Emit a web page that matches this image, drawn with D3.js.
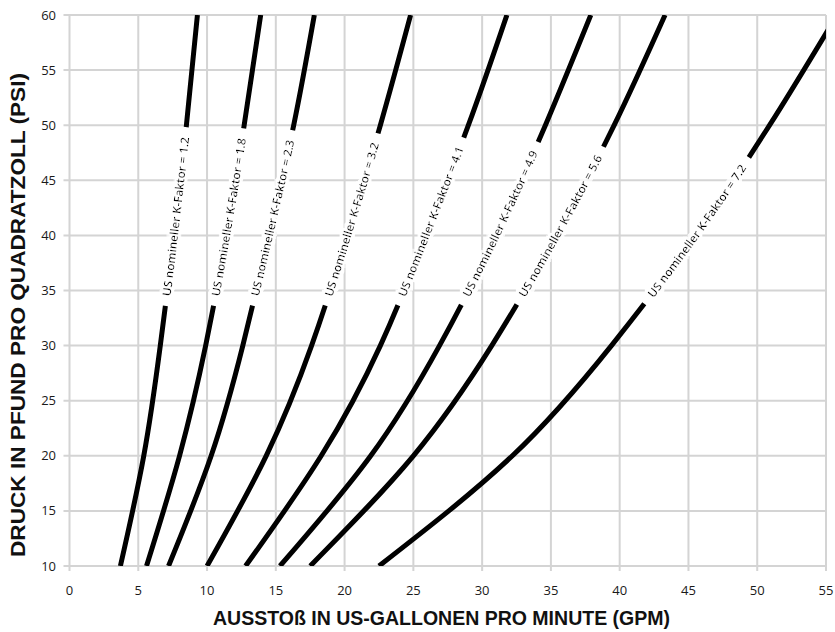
<!DOCTYPE html>
<html>
<head>
<meta charset="utf-8">
<script src="https://cdn.jsdelivr.net/npm/d3@7"></script>
<style>
  body { margin: 0; background: #fff; }
  svg { display: block; }
</style>
</head>
<body>
<div id="viz"></div>
<script>
var pressures = [10, 20, 30, 40, 50, 60];
var kFactors = ["1.2", "1.8", "2.3", "3.2", "4.1", "4.9", "5.6", "7.2"];
// flow in gpm for each K-factor at the pressures above
var flows = [
  [3.7, 5.4, 6.6, 7.6, 8.5, 9.3],
  [5.6, 8.0, 9.9, 11.4, 12.7, 13.9],
  [7.2, 10.3, 12.6, 14.5, 16.3, 17.8],
  [10.0, 14.3, 17.6, 20.2, 22.6, 24.8],
  [12.8, 18.3, 22.6, 25.9, 29.0, 31.8],
  [15.3, 21.9, 26.9, 31.0, 34.6, 37.9],
  [17.5, 25.0, 30.7, 35.4, 39.6, 43.3],
  [22.5, 32.2, 39.4, 45.5, 50.9, 55.8]
];
var xTicks = [0, 5, 10, 15, 20, 25, 30, 35, 40, 45, 50, 55];
var yTicks = [10, 15, 20, 25, 30, 35, 40, 45, 50, 55, 60];

var svg = d3.select("#viz")
  .append("svg")
  .attr("width", 835)
  .attr("height", 632);

var x = d3.scaleLinear().domain([0, 55]).range([69.5, 826]);
var y = d3.scaleLinear().domain([10, 60]).range([566, 15]);

var grid = "#d4d4d4";

// white halo filter for the curve labels
var halo = svg.append("defs").append("filter")
  .attr("id", "halo")
  .attr("x", "-20%").attr("y", "-20%")
  .attr("width", "140%").attr("height", "140%");
halo.append("feMorphology")
  .attr("in", "SourceAlpha").attr("operator", "dilate").attr("radius", 3).attr("result", "fat");
halo.append("feFlood").attr("flood-color", "#fff").attr("result", "white");
halo.append("feComposite").attr("in", "white").attr("in2", "fat").attr("operator", "in").attr("result", "bg");
var merge = halo.append("feMerge");
merge.append("feMergeNode").attr("in", "bg");
merge.append("feMergeNode").attr("in", "SourceGraphic");

// grid lines (they stick out a bit past the axes as ticks)
svg.selectAll("line.vx").data(xTicks).enter()
  .append("line")
  .attr("x1", function(d) { return x(d); })
  .attr("x2", function(d) { return x(d); })
  .attr("y1", y(60))
  .attr("y2", y(10) + 5)
  .style("stroke", grid)
  .style("stroke-width", 2);

svg.selectAll("line.hy").data(yTicks).enter()
  .append("line")
  .attr("x1", x(0) - 6)
  .attr("x2", x(55))
  .attr("y1", function(d) { return y(d); })
  .attr("y2", function(d) { return y(d); })
  .style("stroke", grid)
  .style("stroke-width", 2);

// tick labels
svg.selectAll("text.xt").data(xTicks).enter()
  .append("text")
  .attr("x", function(d) { return x(d); })
  .attr("y", 595)
  .attr("text-anchor", "middle")
  .style("font-family", "Open Sans, Noto Sans, sans-serif")
  .style("font-size", "13px")
  .style("fill", "#1a1a1a")
  .text(function(d) { return d; });

svg.selectAll("text.yt").data(yTicks).enter()
  .append("text")
  .attr("x", 56)
  .attr("y", function(d) { return y(d); })
  .attr("dy", "0.35em")
  .attr("text-anchor", "end")
  .style("font-family", "Open Sans, Noto Sans, sans-serif")
  .style("font-size", "13px")
  .style("fill", "#1a1a1a")
  .text(function(d) { return d; });

// axis titles
svg.append("text")
  .attr("x", 441.5)
  .attr("y", 625)
  .attr("text-anchor", "middle")
  .attr("textLength", 457)
  .attr("lengthAdjust", "spacingAndGlyphs")
  .style("font-family", "Liberation Sans Narrow, Liberation Sans, Arial, sans-serif")
  .style("font-weight", "bold")
  .style("font-size", "20px")
  .style("fill", "#111")
  .text("AUSSTOß IN US-GALLONEN PRO MINUTE (GPM)");

svg.append("text")
  .attr("transform", "translate(25,315) rotate(-90)")
  .attr("text-anchor", "middle")
  .attr("textLength", 484)
  .attr("lengthAdjust", "spacingAndGlyphs")
  .style("font-family", "Liberation Sans Narrow, Liberation Sans, Arial, sans-serif")
  .style("font-weight", "bold")
  .style("font-size", "20px")
  .style("fill", "#111")
  .text("DRUCK IN PFUND PRO QUADRATZOLL (PSI)");

// clip the curves to the plot area
svg.append("clipPath").attr("id", "plot")
  .append("rect")
  .attr("x", x(0)).attr("y", y(60))
  .attr("width", x(55) - x(0)).attr("height", y(10) - y(60));

var line = d3.line()
  .x(function(d) { return x(d[0]); })
  .y(function(d) { return y(d[1]); })
  .curve(d3.curveNatural);

var labelY = 296;   // where every label starts (pixel row)
var textLen = 160;
var pad = 10;

var curves = svg.append("g");
var labels = svg.append("g");

kFactors.forEach(function(k, i) {
  var pts = flows[i].map(function(f, j) { return [f, pressures[j]]; });

  var path = curves.append("path")
    .attr("id", "curve" + i)
    .attr("d", line(pts))
    .attr("clip-path", "url(#plot)")
    .style("fill", "none")
    .style("stroke", "#000")
    .style("stroke-width", 5);

  // find the arc length where the curve crosses labelY
  var node = path.node();
  var total = node.getTotalLength();
  var lo = 0, hi = total;
  for (var n = 0; n < 40; n++) {
    var mid = (lo + hi) / 2;
    if (node.getPointAtLength(mid).y > labelY) lo = mid; else hi = mid;
  }
  var start = lo;

  path.style("stroke-dasharray", (start - pad) + " " + (textLen + 2 * pad) + " " + total);

  labels.append("text")
    .attr("dy", "0.35em")
    .attr("filter", "url(#halo)")
    .style("font-family", "Open Sans, Noto Sans, sans-serif")
    .style("font-size", "11.5px")
    .style("font-weight", 600)
    .style("fill", "#000")
    .append("textPath")
    .attr("href", "#curve" + i)
    .attr("startOffset", start)
    .attr("textLength", textLen)
    .attr("lengthAdjust", "spacingAndGlyphs")
    .text("US nomineller K-Faktor = " + k);
});
</script>
</body>
</html>
